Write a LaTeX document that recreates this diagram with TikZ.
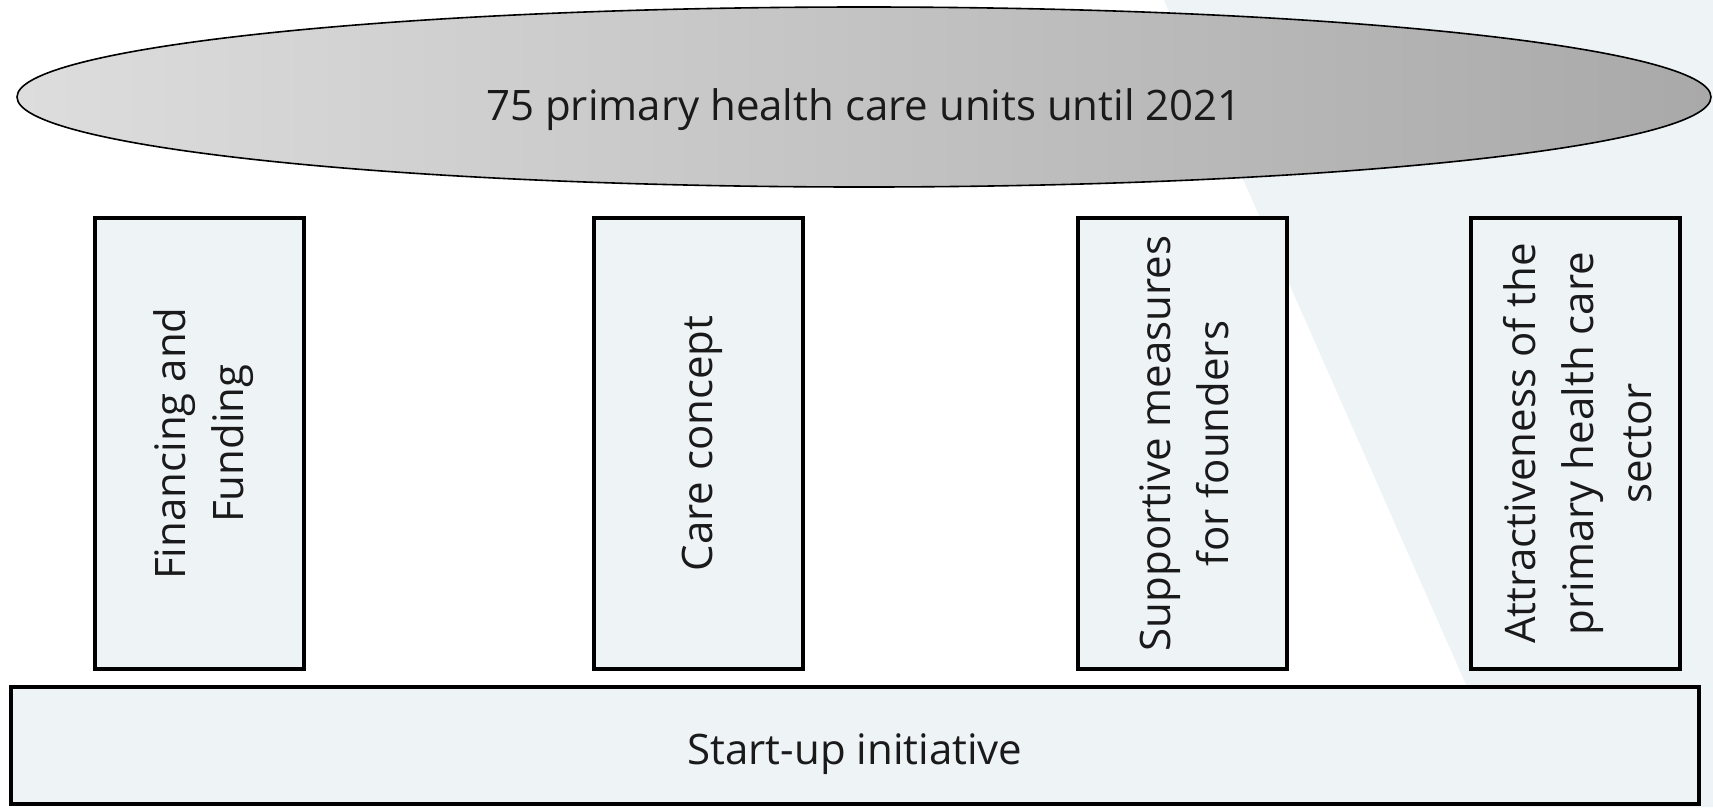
\documentclass[tikz,border=0pt]{standalone}
\usepackage{fontspec}
\setmainfont{Open Sans}
\usetikzlibrary{shapes.geometric}
\definecolor{bgblue}{HTML}{EEF3F6}
\definecolor{ellleft}{HTML}{DDDDDD}
\definecolor{ellright}{HTML}{A9A9A9}
\definecolor{txt}{HTML}{1A1A1A}
\begin{document}
\begin{tikzpicture}[x=1pt,y=-1pt,
  pillar/.style={draw=black, line width=4pt, fill=bgblue,
    minimum width=209pt, minimum height=451pt, inner sep=0pt},
  basebox/.style={draw=black, line width=4pt, fill=bgblue,
    minimum width=1688pt, minimum height=117pt, inner sep=0pt},
  goal/.style={ellipse, draw=black, line width=1.6pt, left color=ellleft, right color=ellright,
    minimum width=1694pt, minimum height=180pt, inner sep=0pt},
  lbl/.style={inner sep=0pt, align=center, text=txt, font=\fontsize{42}{58}\selectfont},
  vlbl/.style={lbl, rotate=90}]
\useasboundingbox (0,0) rectangle (1713,807);
\fill[white] (0,0) rectangle (1713,807);
\fill[bgblue] (1164,0) -- (1713,0) -- (1713,807) -- (1520,807) -- cycle;
\node[goal] (goal) at (864,97) {};
\node[lbl] (goaltext) at ([yshift=-13pt]goal.center) {75 primary health care units until 2021};
\node[pillar] (fin) at (199.5,443.5) {};
\node[pillar] (care) at (698.5,443.5) {};
\node[pillar] (sup) at (1182,443.5) {};
\node[pillar] (attr) at (1575.5,443.5) {};
\node[vlbl] (fintext) at ([xshift=4pt]fin.center) {Financing and\\Funding};
\node[vlbl] (caretext) at ([xshift=4pt]care.center) {Care concept};
\node[vlbl] (suptext) at ([xshift=2pt]sup.center) {Supportive measures\\for founders};
\node[vlbl] (attrtext) at ([xshift=2pt]attr.center) {Attractiveness of the\\primary health care\\sector};
\node[basebox] (start) at (855,745.5) {};
\node[lbl] (starttext) at ([yshift=-9pt]start.center) {Start-up initiative};
\end{tikzpicture}
\end{document}
